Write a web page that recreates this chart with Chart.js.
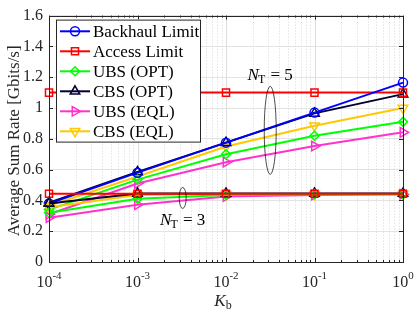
<!DOCTYPE html>
<html>
<head>
<meta charset="utf-8">
<script src="https://cdn.jsdelivr.net/npm/chart.js@4/dist/chart.umd.min.js"></script>
<style>
  html, body { margin: 0; padding: 0; background: #fff; }
  #wrap { width: 415px; height: 312px; }
</style>
</head>
<body>
<div id="wrap"><canvas id="chart" width="415" height="312"></canvas></div>
<script>
// K_b values (x axis)
const kb = [1e-4, 1e-3, 1e-2, 1e-1, 1];
const xDecades = [-4, -3, -2, -1, 0];

// N_T = 5
const backhaul = [0.38, 0.58, 0.775, 0.97, 1.165];
const access5 = [1.1, 1.1, 1.1, 1.1, 1.1];
const ubsOpt5 = [0.34, 0.535, 0.70, 0.82, 0.91];
const cbsOpt5 = [0.385, 0.585, 0.775, 0.965, 1.09];
const ubsEql5 = [0.31, 0.51, 0.648, 0.753, 0.842];
const cbsEql5 = [0.365, 0.555, 0.75, 0.885, 1.0];

// N_T = 3
const access3 = [0.443, 0.443, 0.443, 0.443, 0.443];
const ubsOpt3 = [0.32, 0.41, 0.435, 0.44, 0.44];
const cbsOpt3 = [0.38, 0.445, 0.445, 0.445, 0.445];
const ubsEql3 = [0.288, 0.372, 0.425, 0.435, 0.44];
const cbsEql3 = [0.355, 0.435, 0.44, 0.44, 0.44];

const serif = '"Liberation Serif", "DejaVu Serif", serif';

const styles = {
    backhaul: { label: 'Backhaul Limit', color: '#0000ff', point: 'circle', rot: 0, r: 4.5 },
    access:   { label: 'Access Limit',   color: '#ff0000', point: 'rect', rot: 0, r: 5 },
    ubsOpt:   { label: 'UBS (OPT)',      color: '#00ff00', point: 'rectRot', rot: 0, r: 4.5 },
    cbsOpt:   { label: 'CBS (OPT)',      color: '#000033', point: 'triangle', rot: 0, r: 5.5 },
    ubsEql:   { label: 'UBS (EQL)',      color: '#ff33cc', point: 'triangle', rot: 90, r: 5.5 },
    cbsEql:   { label: 'CBS (EQL)',      color: '#ffc800', point: 'triangle', rot: 180, r: 5.5 }
};
const legendOrder = ['backhaul', 'access', 'ubsOpt', 'cbsOpt', 'ubsEql', 'cbsEql'];

function makeSet(key, values) {
    let s = styles[key];
    return {
        label: s.label,
        data: values.map((v, i) => ({ x: kb[i], y: v })),
        borderColor: s.color,
        borderWidth: 2,
        pointStyle: s.point,
        pointRotation: s.rot,
        pointRadius: s.r,
        pointBorderWidth: 1.5,
        pointBorderColor: s.color,
        pointBackgroundColor: 'rgba(0,0,0,0)',
        tension: 0,
        fill: false,
        clip: false
    };
}

const datasets = [
    makeSet('access', access3),
    makeSet('ubsOpt', ubsOpt3),
    makeSet('cbsOpt', cbsOpt3),
    makeSet('ubsEql', ubsEql3),
    makeSet('cbsEql', cbsEql3),
    makeSet('backhaul', backhaul),
    makeSet('access', access5),
    makeSet('ubsOpt', ubsOpt5),
    makeSet('cbsOpt', cbsOpt5),
    makeSet('ubsEql', ubsEql5),
    makeSet('cbsEql', cbsEql5)
];

// annotations: ellipse centre in data units, radii in px
const notes = [
    { x: 0.0316, y: 0.855, rx: 6, ry: 44, text: '5', baseline: 1.181 },
    { x: 0.00324, y: 0.416, rx: 3.5, ry: 10.5, text: '3', baseline: 0.241 }
];

function drawMarker(ctx, style, x, y, r, rot) {
    let rad = rot * Math.PI / 180;
    ctx.beginPath();
    if (style === 'circle') {
        ctx.arc(x, y, r, 0, Math.PI * 2);
    } else if (style === 'rect' || style === 'rectRot') {
        if (style === 'rect') rad += Math.PI / 4;
        for (let i = 0; i < 4; i++) {
            let a = rad + i * Math.PI / 2;
            let px = x + Math.cos(a) * r, py = y + Math.sin(a) * r;
            i === 0 ? ctx.moveTo(px, py) : ctx.lineTo(px, py);
        }
    } else {
        for (let i = 0; i < 3; i++) {
            let a = rad + i * 2 * Math.PI / 3;
            let px = x + Math.sin(a) * r, py = y - Math.cos(a) * r;
            i === 0 ? ctx.moveTo(px, py) : ctx.lineTo(px, py);
        }
    }
    ctx.closePath();
    ctx.stroke();
}

function drawNT(ctx, cx, baseY, num) {
    let big = '17px ' + serif, small = '12px ' + serif;
    ctx.font = 'italic ' + big;
    let wN = ctx.measureText('N').width;
    ctx.font = small;
    let wT = ctx.measureText('T').width;
    ctx.font = big;
    let rest = ' = ' + num;
    let wR = ctx.measureText(rest).width;
    let x = cx - (wN + wT + wR) / 2;
    ctx.textAlign = 'left';
    ctx.textBaseline = 'alphabetic';
    ctx.font = 'italic ' + big;
    ctx.fillText('N', x, baseY);
    ctx.font = small;
    ctx.fillText('T', x + wN - 1, baseY + 3);
    ctx.font = big;
    ctx.fillText(rest, x + wN + wT, baseY);
}

const decor = {
    id: 'decor',
    beforeDatasetsDraw(chart) {
        const { ctx, chartArea: a, scales } = chart;
        const xs = scales.x;
        ctx.save();
        // vertical grid, major solid and minor dotted
        xDecades.forEach(d => {
            let px = xs.getPixelForValue(Math.pow(10, d));
            ctx.strokeStyle = '#dedede';
            ctx.lineWidth = 1;
            ctx.setLineDash([]);
            ctx.beginPath();
            ctx.moveTo(Math.round(px) + 0.5, a.top);
            ctx.lineTo(Math.round(px) + 0.5, a.bottom);
            ctx.stroke();
            if (d < 0) {
                for (let k = 2; k <= 9; k++) {
                    let mx = Math.round(xs.getPixelForValue(k * Math.pow(10, d))) + 0.5;
                    ctx.strokeStyle = '#d6d6d6';
                    ctx.setLineDash([1, 2]);
                    ctx.beginPath();
                    ctx.moveTo(mx, a.top);
                    ctx.lineTo(mx, a.bottom);
                    ctx.stroke();
                }
            }
        });
        ctx.restore();
    },
    afterDraw(chart) {
        const { ctx, chartArea: a, scales } = chart;
        const xs = scales.x, ys = scales.y;
        ctx.save();
        ctx.setLineDash([]);

        // box and inward ticks
        ctx.strokeStyle = '#262626';
        ctx.lineWidth = 1;
        ctx.strokeRect(Math.round(a.left) + 0.5, Math.round(a.top) + 0.5,
            Math.round(a.right - a.left), Math.round(a.bottom - a.top));
        ctx.beginPath();
        ys.ticks.forEach(t => {
            let py = Math.round(ys.getPixelForValue(t.value)) + 0.5;
            ctx.moveTo(a.left, py); ctx.lineTo(a.left + 4, py);
            ctx.moveTo(a.right, py); ctx.lineTo(a.right - 4, py);
        });
        xDecades.forEach(d => {
            let px = Math.round(xs.getPixelForValue(Math.pow(10, d))) + 0.5;
            ctx.moveTo(px, a.bottom); ctx.lineTo(px, a.bottom - 4);
            ctx.moveTo(px, a.top); ctx.lineTo(px, a.top + 4);
            if (d < 0) {
                for (let k = 2; k <= 9; k++) {
                    let mx = Math.round(xs.getPixelForValue(k * Math.pow(10, d))) + 0.5;
                    ctx.moveTo(mx, a.bottom); ctx.lineTo(mx, a.bottom - 2);
                    ctx.moveTo(mx, a.top); ctx.lineTo(mx, a.top + 2);
                }
            }
        });
        ctx.stroke();

        // x tick labels 10^n
        ctx.fillStyle = '#262626';
        ctx.textBaseline = 'alphabetic';
        ctx.textAlign = 'left';
        xDecades.forEach(d => {
            let px = xs.getPixelForValue(Math.pow(10, d));
            ctx.font = '16px ' + serif;
            let wb = ctx.measureText('10').width;
            ctx.font = '11px ' + serif;
            let sup = String(d);
            let ws = ctx.measureText(sup).width;
            let x0 = px - (wb + ws) / 2;
            ctx.font = '16px ' + serif;
            ctx.fillText('10', x0, a.bottom + 25);
            ctx.font = '11px ' + serif;
            ctx.fillText(sup, x0 + wb, a.bottom + 16.5);
        });

        // x title K_b
        ctx.font = 'italic 17px ' + serif;
        let wK = ctx.measureText('K').width;
        ctx.font = '12px ' + serif;
        let wb2 = ctx.measureText('b').width;
        let xc = (a.left + a.right) / 2 - 3;
        let kx = xc - (wK + wb2) / 2;
        ctx.font = 'italic 17px ' + serif;
        ctx.fillText('K', kx, 306);
        ctx.font = '12px ' + serif;
        ctx.fillText('b', kx + wK, 309);

        // y title
        ctx.save();
        ctx.translate(15, (a.top + a.bottom) / 2 + 2);
        ctx.rotate(-Math.PI / 2);
        ctx.textAlign = 'center';
        ctx.textBaseline = 'middle';
        ctx.font = '17px ' + serif;
        ctx.fillText('Average Sum Rate [Gbits/s]', 0, 0);
        ctx.restore();

        // annotations
        ctx.fillStyle = '#000';
        ctx.strokeStyle = '#000';
        ctx.lineWidth = 0.7;
        notes.forEach(n => {
            let cx = xs.getPixelForValue(n.x), cy = ys.getPixelForValue(n.y);
            ctx.beginPath();
            ctx.ellipse(cx, cy, n.rx, n.ry, 0, 0, Math.PI * 2);
            ctx.stroke();
            drawNT(ctx, cx, ys.getPixelForValue(n.baseline), n.text);
        });

        // legend box
        let lx = a.left + 7, ly = a.top + 4, lw = 144, lh = 122;
        ctx.fillStyle = '#fff';
        ctx.fillRect(lx, ly, lw, lh);
        ctx.strokeStyle = '#262626';
        ctx.lineWidth = 1;
        ctx.strokeRect(lx + 0.5, ly + 0.5, lw, lh);
        legendOrder.forEach((key, i) => {
            let s = styles[key];
            let yy = ly + 11.7 + i * 20;
            ctx.strokeStyle = s.color;
            ctx.lineWidth = 2;
            ctx.beginPath();
            ctx.moveTo(lx + 4, yy);
            ctx.lineTo(lx + 34, yy);
            ctx.stroke();
            ctx.lineWidth = 1.5;
            drawMarker(ctx, s.point, lx + 19, yy, s.r, s.rot);
            ctx.fillStyle = '#000';
            ctx.font = '17px ' + serif;
            ctx.textAlign = 'left';
            ctx.textBaseline = 'middle';
            ctx.fillText(s.label, lx + 37, yy + 1);
        });
        ctx.restore();
    }
};

new Chart(document.getElementById('chart'), {
    type: 'line',
    data: { datasets: datasets },
    options: {
        responsive: false,
        animation: false,
        devicePixelRatio: 1,
        layout: { padding: { top: 10, right: 12, left: 0, bottom: 0 } },
        plugins: { legend: { display: false }, tooltip: { enabled: false } },
        scales: {
            x: {
                type: 'logarithmic',
                min: 1e-4,
                max: 1,
                grid: { display: false },
                border: { display: false },
                ticks: { display: false },
                afterFit(scale) { scale.height = 50; }
            },
            y: {
                min: 0,
                max: 1.6,
                grid: { color: '#e3e3e3', drawTicks: false },
                border: { display: false },
                ticks: {
                    stepSize: 0.2,
                    padding: 6,
                    color: '#262626',
                    font: { family: serif, size: 16 },
                    callback: v => String(+v.toFixed(1))
                },
                afterFit(scale) { scale.width = 49; }
            }
        }
    },
    plugins: [decor]
});
</script>
</body>
</html>
